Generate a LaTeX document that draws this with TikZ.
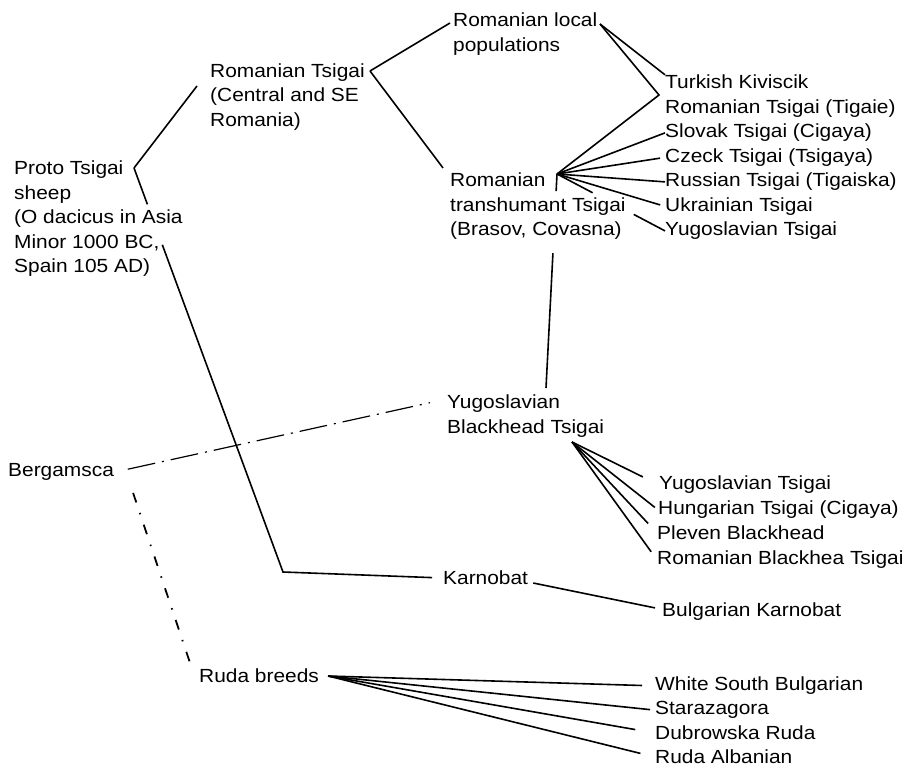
\documentclass[tikz,border=0pt]{standalone}
\usepackage{fontspec}
\setmainfont{Liberation Sans}[FakeStretch=1.1]
\usetikzlibrary{calc}

\tikzset{
    group/.style={inner sep=0pt, anchor=west, align=left, font=\fontsize{19}{24.5}\selectfont},
    breed/.style={inner sep=0pt, anchor=base west, font=\fontsize{19}{24.5}\selectfont},
    link/.style={line width=1.6pt},
    faint/.style={line width=1.2pt, dash pattern=on 28pt off 7pt on 2pt off 7pt},
    dotdash/.style={line width=1.8pt, dash pattern=on 10pt off 11pt on 1.5pt off 11pt}
}

\begin{document}
\begin{tikzpicture}[x=1pt,y=-1pt]
    \useasboundingbox (0,0) rectangle (909,767);

    % Ancestor and main groups
    \node[group] (proto) at (14,219) {Proto Tsigai\\sheep\\(O dacicus in Asia\\Minor 1000 BC,\\Spain 105 AD)};
    \node[group] (rts) at (210,97) {Romanian Tsigai\\(Central and SE\\Romania)};
    \node[group] (rlp) at (453,34) {Romanian local\\populations};
    \node[group] (rtt) at (450,206.5) {Romanian\\transhumant Tsigai\\(Brasov, Covasna)};
    \node[group] (ybt) at (447,416) {Yugoslavian\\Blackhead Tsigai};
    \node[breed] (berg) at (8,476.8) {Bergamsca};
    \node[breed] (karn) at (443,584.8) {Karnobat};
    \node[breed] (ruda) at (199,682.8) {Ruda breeds};

    % Tsigai breeds
    \node[breed] (turk) at (665,88.8) {Turkish Kiviscik};
    \node[breed] (tig) at (665,113.3) {Romanian Tsigai (Tigaie)};
    \node[breed] (slov) at (665,137.8) {Slovak Tsigai (Cigaya)};
    \node[breed] (czeck) at (665,162.3) {Czeck Tsigai (Tsigaya)};
    \node[breed] (russ) at (665,186.8) {Russian Tsigai (Tigaiska)};
    \node[breed] (ukr) at (665,211.3) {Ukrainian Tsigai};
    \node[breed] (yugo) at (665,235.8) {Yugoslavian Tsigai};

    % Blackhead breeds
    \node[breed] (yugt) at (659,489.8) {Yugoslavian Tsigai};
    \node[breed] (hung) at (658,514.8) {Hungarian Tsigai (Cigaya)};
    \node[breed] (plev) at (657,539.8) {Pleven Blackhead};
    \node[breed] (rblk) at (657,564.8) {Romanian Blackhea Tsigai};

    % Karnobat and Ruda breeds
    \node[breed] (bulg) at (662,616.8) {Bulgarian Karnobat};
    \node[breed] (wsb) at (655,690.8) {White South Bulgarian};
    \node[breed] (stara) at (655,714.8) {Starazagora};
    \node[breed] (dubr) at (655,739.8) {Dubrowska Ruda};
    \node[breed] (ralb) at (655,763.8) {Ruda Albanian};

    % Joints
    \coordinate (pfork) at (134,168);
    \coordinate (rfork) at (370,71);
    \coordinate (lfork) at (600,24);
    \coordinate (tigin) at (659,95);
    \coordinate (tfork) at (557,174);
    \coordinate (ybtin) at (546,388);
    \coordinate (bfork) at (572,442);
    \coordinate (kbend) at (283,572);
    \coordinate (rbfork) at ([xshift=9pt]ruda.east);

    % Proto Tsigai split
    \draw[link] (pfork) -- ([xshift=-13pt,yshift=11pt]rts.west);
    \draw[link] (pfork) -- ($(pfork)!0.09!(kbend)$);
    \draw[link, shorten >=11pt] ($(pfork)!0.19!(kbend)$) -- (kbend) -- (karn.west);

    % Romanian Tsigai
    \draw[link] (rfork) -- ([xshift=-3pt,yshift=11pt]rlp.west);
    \draw[link] (rfork) -- ([xshift=-7pt,yshift=5pt]rtt.north west);

    % Local populations
    \draw[link] (lfork) -- (turk.north west);
    \draw[link] (lfork) -- (tigin) -- (tfork);

    % Transhumant Tsigai
    \draw[link] (tfork) -- (slov.west);
    \draw[link, shorten >=5pt] (tfork) -- (czeck.west);
    \draw[link] (tfork) -- (russ.west);
    \draw[link, shorten >=5pt] (tfork) -- (ukr.west);
    \draw[link] (tfork) -- ($(tfork)!0.33!(yugo.west)$);
    \draw[link] ($(tfork)!0.71!(yugo.west)$) -- (yugo.west);
    \draw[link] (tfork) -- ($(tfork)!0.08!(ybtin)$);
    \draw[link] ($(tfork)!0.37!(ybtin)$) -- (ybtin);

    % Blackhead Tsigai
    \draw[link, shorten >=18pt] (bfork) -- (yugt.west);
    \draw[link, shorten >=4pt] (bfork) -- (hung.west);
    \draw[link, shorten >=13pt] (bfork) -- (plev.west);
    \draw[link, shorten >=10pt] (bfork) -- (rblk.west);

    % Bergamsca
    \draw[faint, shorten <=14pt] (berg.east) -- ([xshift=-17pt,yshift=-8pt]ybt.north west);
    \draw[dotdash] ([xshift=19pt,yshift=-12pt]berg.south east) -- ([xshift=-9pt,yshift=6pt]ruda.north west);

    % Karnobat
    \draw[link] ([xshift=5pt,yshift=-5pt]karn.east) -- ([xshift=-7pt,yshift=4pt]bulg.west);

    % Ruda breeds
    \draw[link, shorten >=13pt] (rbfork) -- (wsb.west);
    \draw[link, shorten >=5pt] (rbfork) -- (stara.west);
    \draw[link, shorten >=20pt] (rbfork) -- (dubr.west);
    \draw[link, shorten >=15pt] (rbfork) -- (ralb.west);
\end{tikzpicture}
\end{document}
